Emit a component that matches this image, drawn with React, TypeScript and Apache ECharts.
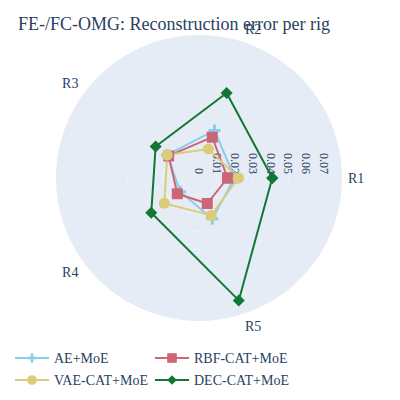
import { useEffect, useRef } from 'react';
import * as echarts from 'echarts';

const rigs = ['R1', 'R2', 'R3', 'R4', 'R5'];
const angles = [0, 72, 144, 216, 288];
const seriesNames = ['AE+MoE', 'RBF-CAT+MoE', 'VAE-CAT+MoE', 'DEC-CAT+MoE'];
const aeValues = [0.02, 0.028, 0.022, 0.013, 0.024];
const rbfValues = [0.016, 0.024, 0.021, 0.015, 0.015];
const vaeValues = [0.022, 0.017, 0.022, 0.024, 0.022];
const decValues = [0.041, 0.05, 0.03, 0.033, 0.072];
const colors = ['#88CCEE', '#CC6677', '#DDCC77', '#117733'];
const plus = 'path://M3,0H5V3H8V5H5V8H3V5H0V3H3Z';
const symbols = [plus, 'rect', 'circle', 'diamond'];
const sizes = [12, 11, 11, 12];
const allValues = [aeValues, rbfValues, vaeValues, decValues];

const font = 'Liberation Serif, serif';

const App = () => {
  const chartRef = useRef<HTMLDivElement>(null);

  useEffect(() => {
    if (!chartRef.current) return;
    const chart = echarts.init(chartRef.current, undefined, { renderer: 'svg' });
    const legendBase = {
      orient: 'vertical' as const,
      itemGap: 8,
      itemWidth: 34,
      itemHeight: 12,
      top: 343,
      height: 50,
      padding: 0,
      textStyle: { color: '#2a3f5f', fontFamily: font, fontSize: 14 },
    };
    chart.setOption({
      animation: false,
      title: {
        text: 'FE-/FC-OMG: Reconstruction error per rig',
        left: 5,
        top: 2,
        textStyle: { color: '#2a3f5f', fontFamily: font, fontSize: 18, fontWeight: 'normal' },
      },
      legend: [
        { ...legendBase, left: 6, data: [seriesNames[0], seriesNames[2]] },
        { ...legendBase, left: 146, data: [seriesNames[1], seriesNames[3]] },
      ],
      polar: { center: [191, 170], radius: 143 },
      angleAxis: {
        type: 'value',
        min: 0,
        max: 360,
        interval: 72,
        startAngle: 0,
        clockwise: false,
        axisLine: { show: false },
        axisTick: { show: false },
        splitLine: { show: true, lineStyle: { color: '#ffffff', width: 1 } },
        axisLabel: {
          color: '#2a3f5f',
          fontFamily: font,
          fontSize: 14,
          margin: 6,
          formatter: (v: number) => {
            const i = angles.indexOf(v);
            return i >= 0 ? rigs[i] : '';
          },
        },
      },
      radiusAxis: {
        type: 'value',
        min: 0,
        max: 0.08,
        interval: 0.01,
        axisLine: { show: false },
        axisTick: { show: false },
        splitLine: { show: true, lineStyle: { color: '#ffffff', width: 1 } },
        splitArea: { show: true, areaStyle: { color: ['#e5ecf6', '#e5ecf6'] } },
        axisLabel: {
          color: '#2a3f5f',
          fontFamily: font,
          fontSize: 12,
          rotate: -90,
          margin: 4,
          formatter: (v: number) => (v >= 0.08 ? '' : String(Number(v.toFixed(2)))),
        },
        z: 1,
      },
      series: seriesNames.map((name, k) => ({
        name,
        type: 'line',
        coordinateSystem: 'polar',
        symbol: symbols[k],
        symbolSize: sizes[k],
        lineStyle: { color: colors[k], width: 2 },
        itemStyle: { color: colors[k] },
        data: [...allValues[k], allValues[k][0]].map((v, i) => [v, angles[i % 5]]),
      })),
    });
    return () => chart.dispose();
  }, []);

  return <div ref={chartRef} style={{ width: 384, height: 384 }} />;
};

export default App;
